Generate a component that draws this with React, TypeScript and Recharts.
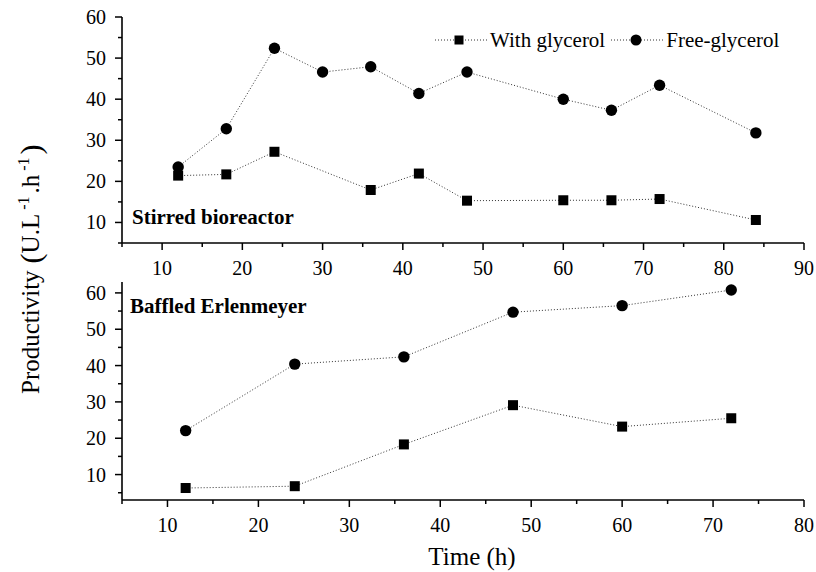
import { Legend, Line, LineChart, XAxis, YAxis } from "recharts";

const FONT = '"Liberation Serif", "Times New Roman", Times, serif';
const INK = "#000";
const TRACE = "#333";

// Stirred bioreactor (hours, U.L-1.h-1)
const stirredWithTime = [12, 18, 24, 36, 42, 48, 60, 66, 72, 84];
const stirredWith = [21.4, 21.7, 27.2, 17.9, 21.9, 15.3, 15.4, 15.4, 15.7, 10.6];
const stirredFreeTime = [12, 18, 24, 30, 36, 42, 48, 60, 66, 72, 84];
const stirredFree = [23.5, 32.8, 52.4, 46.6, 47.9, 41.4, 46.6, 40.0, 37.3, 43.4, 31.8];

// Baffled Erlenmeyer
const baffledTime = [12, 24, 36, 48, 60, 72];
const baffledWith = [6.3, 6.8, 18.3, 29.1, 23.2, 25.5];
const baffledFree = [22.1, 40.4, 42.4, 54.7, 56.5, 60.8];

const SERIES = ["With glycerol", "Free-glycerol"];

const stirredXTicks = [5, 10, 15, 20, 25, 30, 35, 40, 45, 50, 55, 60, 65, 70, 75, 80, 85, 90];
const stirredYTicks = [5, 10, 15, 20, 25, 30, 35, 40, 45, 50, 55, 60];
const baffledXTicks = [5, 10, 15, 20, 25, 30, 35, 40, 45, 50, 55, 60, 65, 70, 75, 80];
const baffledYTicks = [5, 10, 15, 20, 25, 30, 35, 40, 45, 50, 55, 60];
// unlabelled ticks on the top and right edges of each frame
const frameTicks = [1, 2, 3, 4, 5, 6, 7, 8, 9];

const pts = (t: number[], v: number[]) => t.map((x, i) => ({ t: x, v: v[i] }));

type TickProps = { x?: number; y?: number; payload?: { value: number } };

const AXIS_LINE = { stroke: INK, strokeWidth: 1.6 };

function BottomTick({ x = 0, y = 0, payload }: TickProps) {
  const v = payload?.value ?? 0;
  const major = v % 10 === 0;
  return (
    <g>
      <line x1={x} x2={x} y1={y} y2={y + (major ? 7 : 4)} stroke={INK} strokeWidth={1.5} />
      {major && (
        <text x={x} y={y + 32} textAnchor="middle" fontFamily={FONT} fontSize={20} fill={INK}>
          {v}
        </text>
      )}
    </g>
  );
}

function LeftTick({ x = 0, y = 0, payload }: TickProps) {
  const v = payload?.value ?? 0;
  const major = v % 10 === 0;
  return (
    <g>
      <line x1={x} x2={x - (major ? 7 : 4)} y1={y} y2={y} stroke={INK} strokeWidth={1.5} />
      {major && (
        <text x={x - 16} y={y + 7} textAnchor="end" fontFamily={FONT} fontSize={20} fill={INK}>
          {v}
        </text>
      )}
    </g>
  );
}

function TopTick({ x = 0, y = 0, payload }: TickProps) {
  const major = (payload?.value ?? 0) % 2 === 0;
  return <line x1={x} x2={x} y1={y} y2={y + (major ? 9 : 4.5)} stroke={INK} strokeWidth={1.5} />;
}

function RightTick({ x = 0, y = 0, payload }: TickProps) {
  const major = (payload?.value ?? 0) % 2 === 0;
  return <line x1={x} x2={x - (major ? 9 : 4.5)} y1={y} y2={y} stroke={INK} strokeWidth={1.5} />;
}

function SquareDot({ cx, cy }: { cx?: number; cy?: number }) {
  if (cx == null || cy == null) return null;
  return <rect x={cx - 5} y={cy - 5} width={10} height={10} fill={INK} />;
}

function RoundDot({ cx, cy }: { cx?: number; cy?: number }) {
  if (cx == null || cy == null) return null;
  return <circle cx={cx} cy={cy} r={5.7} fill={INK} />;
}

function LegendContent({ payload }: { payload?: { value?: string }[] }) {
  // keep the series order rather than the legend's alphabetical sort
  const items = [...(payload ?? [])].sort(
    (a, b) => SERIES.indexOf(a.value ?? "") - SERIES.indexOf(b.value ?? "")
  );
  return (
    <div
      style={{
        display: "flex",
        alignItems: "center",
        height: 24,
        fontFamily: FONT,
        fontSize: 21,
        color: INK,
        whiteSpace: "nowrap",
      }}
    >
      {items.map((item, i) => (
        <span key={i} style={{ display: "flex", alignItems: "center", marginLeft: i ? 6 : 0 }}>
          <svg width={53} height={24}>
            <line x1={0} x2={53} y1={12} y2={12} stroke={TRACE} strokeDasharray="1 2" />
            {item.value === SERIES[0] ? (
              <rect x={19.5} y={7.5} width={9} height={9} fill={INK} />
            ) : (
              <circle cx={25} cy={12} r={5.5} fill={INK} />
            )}
          </svg>
          <span style={{ marginLeft: 2 }}>{item.value}</span>
        </span>
      ))}
    </div>
  );
}

const lineStyle = {
  type: "linear" as const,
  dataKey: "v",
  stroke: TRACE,
  strokeWidth: 1,
  strokeDasharray: "1 2",
  isAnimationActive: false,
  activeDot: false,
};

export default function App() {
  return (
    <div style={{ position: "absolute", left: 0, top: 0, width: 816, height: 572, background: "#fff" }}>
      <div style={{ position: "absolute", left: 0, top: 0 }}>
        <LineChart width={816} height={290} margin={{ top: 17, right: 12, bottom: 0, left: 0 }}>
          <XAxis
            xAxisId="b"
            dataKey="t"
            type="number"
            domain={[5, 90]}
            ticks={stirredXTicks}
            interval={0}
            height={47}
            tickSize={0}
            tickMargin={0}
            tickLine={false}
            axisLine={AXIS_LINE}
            tick={(p: TickProps) => <BottomTick {...p} />}
          />
          <XAxis
            xAxisId="top"
            orientation="top"
            type="number"
            domain={[0, 10]}
            ticks={frameTicks}
            interval={0}
            height={0}
            tickSize={0}
            tickMargin={0}
            tickLine={false}
            axisLine={AXIS_LINE}
            tick={(p: TickProps) => <TopTick {...p} />}
          />
          <YAxis
            yAxisId="l"
            type="number"
            domain={[5, 60]}
            ticks={stirredYTicks}
            interval={0}
            width={122}
            tickSize={0}
            tickMargin={0}
            tickLine={false}
            axisLine={AXIS_LINE}
            tick={(p: TickProps) => <LeftTick {...p} />}
          />
          <YAxis
            yAxisId="r"
            orientation="right"
            type="number"
            domain={[0, 10]}
            ticks={frameTicks}
            interval={0}
            width={0}
            tickSize={0}
            tickMargin={0}
            tickLine={false}
            axisLine={AXIS_LINE}
            tick={(p: TickProps) => <RightTick {...p} />}
          />
          <Legend
            verticalAlign="middle"
            align="center"
            layout="horizontal"
            wrapperStyle={{ top: 28, left: 435, width: "auto" }}
            content={(props: any) => <LegendContent payload={props.payload} />}
          />
          <Line
            {...lineStyle}
            name={SERIES[0]}
            xAxisId="b"
            yAxisId="l"
            data={pts(stirredWithTime, stirredWith)}
            dot={<SquareDot />}
          />
          <Line
            {...lineStyle}
            name={SERIES[1]}
            xAxisId="b"
            yAxisId="l"
            data={pts(stirredFreeTime, stirredFree)}
            dot={<RoundDot />}
          />
        </LineChart>
      </div>

      <div style={{ position: "absolute", left: 0, top: 270 }}>
        <LineChart width={816} height={302} margin={{ top: 12, right: 12, bottom: 0, left: 0 }}>
          <XAxis
            xAxisId="b"
            dataKey="t"
            type="number"
            domain={[5, 80]}
            ticks={baffledXTicks}
            interval={0}
            height={72}
            tickSize={0}
            tickMargin={0}
            tickLine={false}
            axisLine={AXIS_LINE}
            tick={(p: TickProps) => <BottomTick {...p} />}
          />
          <XAxis
            xAxisId="top"
            orientation="top"
            type="number"
            domain={[0, 10]}
            ticks={frameTicks}
            interval={0}
            height={0}
            tickSize={0}
            tickMargin={0}
            tickLine={false}
            axisLine={AXIS_LINE}
            tick={(p: TickProps) => <TopTick {...p} />}
          />
          <YAxis
            yAxisId="l"
            type="number"
            domain={[3, 63]}
            ticks={baffledYTicks}
            interval={0}
            width={122}
            tickSize={0}
            tickMargin={0}
            tickLine={false}
            axisLine={AXIS_LINE}
            tick={(p: TickProps) => <LeftTick {...p} />}
          />
          <YAxis
            yAxisId="r"
            orientation="right"
            type="number"
            domain={[0, 9.65]}
            ticks={frameTicks}
            interval={0}
            width={0}
            tickSize={0}
            tickMargin={0}
            tickLine={false}
            axisLine={AXIS_LINE}
            tick={(p: TickProps) => <RightTick {...p} />}
          />
          <Line
            {...lineStyle}
            name={SERIES[0]}
            xAxisId="b"
            yAxisId="l"
            data={pts(baffledTime, baffledWith)}
            dot={<SquareDot />}
          />
          <Line
            {...lineStyle}
            name={SERIES[1]}
            xAxisId="b"
            yAxisId="l"
            data={pts(baffledTime, baffledFree)}
            dot={<RoundDot />}
          />
        </LineChart>
      </div>

      {/* panel captions and the shared axis titles */}
      <svg
        width={816}
        height={572}
        style={{ position: "absolute", left: 0, top: 0, pointerEvents: "none" }}
        fontFamily={FONT}
        fill={INK}
      >
        <text x={132} y={224} fontSize={21} fontWeight="bold">
          Stirred bioreactor
        </text>
        <text x={130} y={313} fontSize={21} fontWeight="bold">
          Baffled Erlenmeyer
        </text>
        <text x={472} y={565} fontSize={25} textAnchor="middle">
          Time (h)
        </text>
        <text transform="translate(39 394) rotate(-90)" fontSize={25}>
          Productivity
          <tspan dx={7} dy={2} fontSize={30}>(</tspan>
          <tspan dy={-2}>U.L</tspan>
          <tspan dx={4} dy={-10} fontSize={16}>-1</tspan>
          <tspan dx={3} dy={10}>.h</tspan>
          <tspan dx={4} dy={-10} fontSize={16}>-1</tspan>
          <tspan dx={3} dy={12} fontSize={30}>)</tspan>
        </text>
      </svg>
    </div>
  );
}
